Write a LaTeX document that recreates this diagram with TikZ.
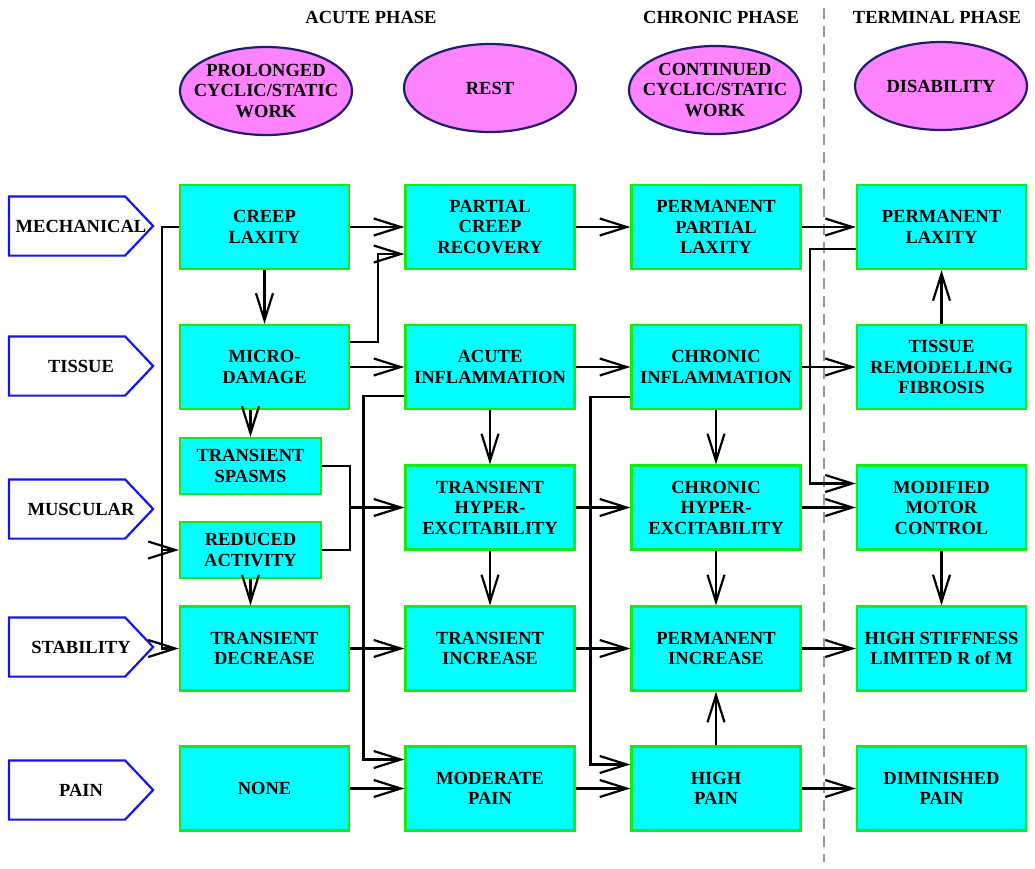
\documentclass[tikz,border=0pt]{standalone}
\usepackage{fontspec}
\setmainfont{Liberation Serif}
\usetikzlibrary{arrows.meta,shapes.geometric}
\definecolor{boxfill}{RGB}{0,255,255}
\definecolor{boxedge}{RGB}{20,235,20}
\definecolor{tagedge}{RGB}{20,20,240}
\definecolor{loadfill}{RGB}{255,130,255}
\definecolor{loadedge}{RGB}{30,30,110}
\newcommand{\labfont}{\bfseries\fontsize{18.5}{20.5}\selectfont}
\begin{document}
\begin{tikzpicture}[x=1pt, y=-1pt, line width=2.2pt,
  >={Straight Barb[length=27pt,width=17pt]},
  box/.style={draw=boxedge, fill=boxfill, rectangle, minimum width=169pt, minimum height=84pt, align=center, inner sep=1pt, font=\labfont},
  smallbox/.style={box, minimum width=141pt, minimum height=56pt},
  tag/.style={rectangle, minimum width=142pt, minimum height=57pt, inner sep=0pt, font=\labfont},
  load/.style={draw=loadedge, fill=loadfill, ellipse, minimum width=172pt, minimum height=88pt, inner sep=0pt},
  phase/.style={font=\labfont}]
\useasboundingbox (0,0) rectangle (1035,868);

% phase divider
\draw[gray!80, line width=1.4pt, dash pattern=on 11pt off 7pt] (824,8) -- (824,862);

% headings
\node[phase] (hacute) at (371,17) {ACUTE PHASE};
\node[phase] (hchronic) at (721,17) {CHRONIC PHASE};
\node[phase] (hterminal) at (937,17) {TERMINAL PHASE};

% loading
\node[load, label={[align=center, font=\labfont]center:{PROLONGED\\CYCLIC/STATIC\\WORK}}] (work) at (266,91) {};
\node[load, label={[align=center, font=\labfont]center:{REST}}] (rest) at (490,88) {};
\node[load, label={[align=center, font=\labfont]center:{CONTINUED\\CYCLIC/STATIC\\WORK}}] (cont) at (715,90) {};
\node[load, label={[align=center, font=\labfont]center:{DISABILITY}}] (disab) at (941,86) {};

% row tags
\node[tag] (mech) at (81,226) {MECHANICAL};
\node[tag] (tissue) at (81,366) {TISSUE};
\node[tag] (musc) at (81,509) {MUSCULAR};
\node[tag] (stab) at (81,647) {STABILITY};
\node[tag] (pain) at (81,790) {PAIN};
\foreach \t in {mech,tissue,musc,stab,pain}
  \draw[draw=tagedge] (\t.north west) -- ([xshift=-28pt]\t.north east) -- (\t.east)
    -- ([xshift=-28pt]\t.south east) -- (\t.south west) -- cycle;

% acute, first column
\node[box] (creep) at (264.5,227) {CREEP\\LAXITY};
\node[box] (micro) at (264.5,367) {MICRO-\\DAMAGE};
\node[smallbox] (spasms) at (250.5,466) {TRANSIENT\\SPASMS};
\node[smallbox] (reduced) at (250.5,550) {REDUCED\\ACTIVITY};
\node[box] (decr) at (264.5,648.5) {TRANSIENT\\DECREASE};
\node[box] (none) at (264.5,788.5) {NONE};

% acute, second column
\node[box] (partial) at (490,227) {PARTIAL\\CREEP\\RECOVERY};
\node[box] (acute) at (490,367) {ACUTE\\INFLAMMATION};
\node[box] (hyper) at (490,507.5) {TRANSIENT\\HYPER-\\EXCITABILITY};
\node[box] (tinc) at (490,648.5) {TRANSIENT\\INCREASE};
\node[box] (modpain) at (490,788.5) {MODERATE\\PAIN};

% chronic
\node[box] (permpart) at (716,227) {PERMANENT\\PARTIAL\\LAXITY};
\node[box] (chrinfl) at (716,367) {CHRONIC\\INFLAMMATION};
\node[box] (chrhyper) at (716,507.5) {CHRONIC\\HYPER-\\EXCITABILITY};
\node[box] (perminc) at (716,648.5) {PERMANENT\\INCREASE};
\node[box] (highpain) at (716,788.5) {HIGH\\PAIN};

% terminal
\node[box] (permlax) at (941.5,227) {PERMANENT\\LAXITY};
\node[box] (remod) at (941.5,367) {TISSUE\\REMODELLING\\FIBROSIS};
\node[box] (motor) at (941.5,507.5) {MODIFIED\\MOTOR\\CONTROL};
\node[box] (stiff) at (941.5,648.5) {HIGH STIFFNESS\\LIMITED R of M};
\node[box] (dimpain) at (941.5,788.5) {DIMINISHED\\PAIN};

\coordinate (musj) at ([xshift=28pt]spasms.east);

% acute links
\draw[->] (creep.west) -- ++(-17,0) |- (decr.west);
\draw[->] ([xshift=-17pt]reduced.west) -- (reduced.west);
\draw[->] (creep) -- (partial);
\draw[->] (creep) -- (micro);
\draw[->] ([yshift=25pt]micro.east) -- ++(28,0) |- ([yshift=-27pt]partial.west);
\draw[->] (micro) -- (acute);
\draw[->] (micro.south -| spasms.north) -- (spasms.north);
\draw (spasms.east) -- (musj) |- (reduced.east);
\draw[->] (musj |- hyper.west) -- (hyper.west);
\draw[->] (reduced) -- (reduced |- decr.north);
\draw[->] ([yshift=-29pt]acute.west) -- ++(-41,0) |- ([yshift=29pt]modpain.west);
\draw[->] (none) -- (modpain);
\draw[->] (acute) -- (hyper);
\draw[->] (hyper) -- (tinc);
\draw[->] (decr) -- (tinc);

% chronic links
\draw[->] (partial) -- (permpart);
\draw[->] (acute) -- (chrinfl);
\draw[->] ([yshift=-30pt]chrinfl.west) -- ++(-40,0) |- ([yshift=24pt]highpain.west);
\draw[->] (hyper) -- (chrhyper);
\draw[->] (tinc) -- (perminc);
\draw[->] (modpain) -- (highpain);
\draw[->] (chrinfl) -- (chrhyper);
\draw[->] (chrhyper) -- (perminc);
\draw[->] (highpain) -- (perminc);

% terminal links
\draw[->] (permpart) -- (permlax);
\draw[->] ([yshift=-22pt]permlax.west) -- ++(-46,0) |- ([yshift=24pt]motor.west);
\draw[->] (chrinfl) -- (remod);
\draw[->] (remod) -- (permlax);
\draw[->] (chrhyper) -- (motor);
\draw[->] (motor) -- (stiff);
\draw[->] (perminc) -- (stiff);
\draw[->] (highpain) -- (dimpain);
\end{tikzpicture}
\end{document}
